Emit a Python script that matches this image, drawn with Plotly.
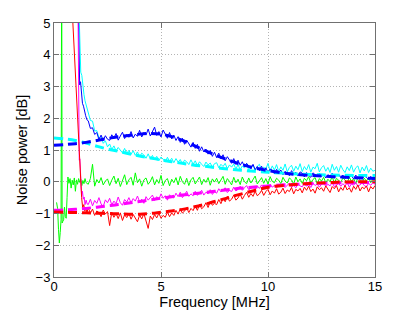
import numpy as np
import plotly.graph_objects as go

# ---------------- data ----------------
X_TICKS = [0, 5, 10, 15]
Y_TICKS = [-3, -2, -1, 0, 1, 2, 3, 4, 5]

# uniform frequency sampling of the measured traces (MHz)
BODY_FREQ = np.round(np.linspace(1.6, 15.0, 135), 2)

BLUE_HEAD_F = [1.13, 1.17, 1.2, 1.24, 1.28, 1.33, 1.38, 1.43, 1.48, 1.54]
BLUE_HEAD_V = [5.6, 4.15, 3.05, 3.15, 2.7, 2.47, 2.38, 2.2, 2.08, 1.95]
BLUE_BODY = [
    1.92, 1.68, 1.70, 1.49, 1.55, 1.33, 1.47, 1.30, 1.45, 1.34,
    1.30, 1.48, 1.37, 1.52, 1.31, 1.44, 1.56, 1.36, 1.49, 1.40,
    1.58, 1.38, 1.50, 1.43, 1.62, 1.41, 1.55, 1.47, 1.66, 1.44,
    1.59, 1.72, 1.46, 1.58, 1.41, 1.63, 1.50, 1.37, 1.55, 1.35,
    1.47, 1.30, 1.42, 1.24, 1.37, 1.18, 1.31, 1.21, 1.09, 1.24,
    1.05, 1.18, 0.96, 1.10, 0.94, 1.02, 0.87, 0.99, 0.80, 0.93,
    0.76, 0.90, 0.72, 0.85, 0.66, 0.79, 0.70, 0.58, 0.73, 0.55,
    0.68, 0.52, 0.63, 0.47, 0.58, 0.50, 0.41, 0.55, 0.38, 0.48,
    0.35, 0.49, 0.32, 0.44, 0.29, 0.40, 0.36, 0.25, 0.39, 0.27,
    0.37, 0.22, 0.33, 0.26, 0.19, 0.35, 0.24, 0.30, 0.18, 0.31,
    0.27, 0.15, 0.29, 0.20, 0.14, 0.28, 0.22, 0.17, 0.26, 0.16,
    0.24, 0.12, 0.22, 0.17, 0.27, 0.11, 0.20, 0.23, 0.13, 0.21,
    0.10, 0.22, 0.15, 0.19, 0.09, 0.21, 0.13, 0.17, 0.08, 0.18,
    0.14, 0.07, 0.17, 0.10, 0.12,
]

CYAN_HEAD_F = [1.16, 1.2, 1.25, 1.3, 1.35, 1.4, 1.45, 1.5, 1.55]
CYAN_HEAD_V = [5.6, 4.3, 3.45, 3.35, 2.95, 2.75, 2.55, 2.42, 2.28]
CYAN_BODY = [
    2.22, 1.93, 1.91, 1.60, 1.61, 1.38, 1.42, 1.21, 1.29, 1.10,
    1.19, 1.02, 1.13, 0.97, 1.08, 1.01, 0.91, 1.05, 0.88, 0.99,
    0.86, 0.98, 0.83, 0.94, 0.78, 0.90, 0.84, 0.74, 0.88, 0.72,
    0.83, 0.69, 0.80, 0.66, 0.78, 0.71, 0.62, 0.77, 0.64, 0.74,
    0.60, 0.73, 0.62, 0.70, 0.56, 0.68, 0.63, 0.54, 0.69, 0.55,
    0.66, 0.51, 0.63, 0.55, 0.48, 0.62, 0.53, 0.59, 0.46, 0.57,
    0.60, 0.44, 0.55, 0.48, 0.58, 0.41, 0.53, 0.46, 0.56, 0.40,
    0.54, 0.38, 0.50, 0.43, 0.57, 0.37, 0.47, 0.52, 0.36, 0.49,
    0.55, 0.34, 0.46, 0.40, 0.58, 0.33, 0.50, 0.37, 0.54, 0.32,
    0.47, 0.36, 0.56, 0.31, 0.45, 0.52, 0.33, 0.49, 0.38, 0.57,
    0.32, 0.48, 0.37, 0.54, 0.30, 0.46, 0.41, 0.58, 0.31, 0.44,
    0.51, 0.33, 0.45, 0.29, 0.55, 0.36, 0.48, 0.30, 0.52, 0.38,
    0.29, 0.47, 0.35, 0.53, 0.30, 0.44, 0.50, 0.28, 0.46, 0.34,
    0.51, 0.29, 0.43, 0.33, 0.36,
]

GREEN_HEAD_F = [0.12, 0.17, 0.21, 0.25, 0.29, 0.33, 0.36, 0.38, 0.41, 0.45,
                0.49, 0.53, 0.57, 0.61, 0.65, 0.7, 0.75, 0.8, 0.85, 0.9,
                0.95, 1.0, 1.05, 1.1, 1.15, 1.2, 1.25, 1.3, 1.35, 1.4,
                1.45, 1.5]
GREEN_HEAD_V = [-0.65, -0.85, -1.5, -1.93, -1.6, -1.2, 7.0, -1.3, -1.25, -1.2,
                -0.8, -1.1, -1.15, -0.5, 0.15, -0.05, 0.1, -0.2, 0.05, -0.1,
                0.12, -0.3, 0.06, -0.08, 0.1, -0.02, 0.08, -0.12, 0.04, -0.06,
                0.1, -0.03]
GREEN_BODY = [
    -0.08, 0.10, 0.55, -0.14, 0.07, -0.04, 0.13, -0.10, 0.02, 0.09,
    -0.12, 0.05, 0.18, -0.06, 0.11, -0.15, 0.03, 0.22, -0.09, 0.06,
    0.14, -0.11, 0.28, -0.03, 0.09, -0.14, 0.06, 0.12, -0.08, 0.01,
    0.16, -0.10, 0.07, -0.05, 0.20, -0.12, 0.04, 0.10, -0.13, 0.08,
    -0.03, 0.13, -0.10, 0.17, 0.00, -0.08, 0.11, -0.12, 0.06, 0.14,
    -0.07, 0.04, 0.15, -0.09, 0.08, -0.02, 0.13, -0.11, 0.09, -0.01,
    0.11, -0.06, 0.05, 0.17, -0.08, 0.10, 0.01, -0.10, 0.14, -0.03,
    0.08, -0.09, 0.15, 0.00, -0.06, 0.12, -0.04, 0.09, 0.18, -0.07,
    0.04, 0.13, -0.05, 0.10, -0.08, 0.16, 0.01, -0.03, 0.11, 0.05,
    -0.06, 0.14, 0.02, -0.04, 0.12, 0.06, -0.07, 0.15, 0.00, 0.09,
    -0.05, 0.11, 0.03, 0.16, -0.04, 0.07, 0.13, -0.06, 0.10, 0.02,
    0.14, -0.03, 0.08, 0.00, 0.17, -0.05, 0.11, 0.05, -0.02, 0.12,
    0.06, -0.04, 0.15, 0.01, 0.10, -0.06, 0.13, 0.07, -0.01, 0.11,
    0.02, 0.14, -0.03, 0.09, 0.06,
]

MAGENTA_HEAD_F = [1.12, 1.15, 1.18, 1.21, 1.25, 1.29, 1.33, 1.37, 1.41, 1.45, 1.5, 1.55]
MAGENTA_HEAD_V = [5.6, 1.4, 0.68, 0.72, 0.25, -0.45, -0.3, -0.55, -0.48, -0.72, -0.58, -0.7]
MAGENTA_BODY = [
    -0.72, -0.55, -0.76, -0.59, -0.68, -0.50, -0.70, -0.78, -0.57, -0.66,
    -0.52, -0.73, -0.61, -0.69, -0.48, -0.66, -0.74, -0.56, -0.64, -0.50,
    -0.66, -0.53, -0.61, -0.45, -0.63, -0.55, -0.68, -0.47, -0.58, -0.51,
    -0.42, -0.59, -0.47, -0.56, -0.38, -0.52, -0.44, -0.58, -0.41, -0.49,
    -0.51, -0.36, -0.47, -0.33, -0.50, -0.41, -0.30, -0.46, -0.38, -0.44,
    -0.30, -0.43, -0.35, -0.27, -0.42, -0.33, -0.38, -0.25, -0.40, -0.31,
    -0.36, -0.22, -0.32, -0.26, -0.19, -0.34, -0.27, -0.31, -0.17, -0.29,
    -0.24, -0.14, -0.27, -0.19, -0.12, -0.25, -0.20, -0.16, -0.26, -0.13,
    -0.21, -0.10, -0.19, -0.13, -0.22, -0.08, -0.17, -0.12, -0.20, -0.09,
    -0.15, -0.06, -0.18, -0.10, -0.04, -0.17, -0.11, -0.19, -0.07, -0.13,
    -0.16, -0.05, -0.14, -0.09, -0.18, -0.04, -0.12, -0.07, -0.17, -0.08,
    -0.03, -0.15, -0.08, -0.13, -0.02, -0.16, -0.10, -0.05, -0.14, -0.06,
    -0.13, -0.03, -0.17, -0.07, -0.11, -0.02, -0.15, -0.09, -0.04, -0.12,
    -0.16, -0.05, -0.11, -0.03, -0.08,
]

RED_HEAD_F = [0.86, 1.13, 1.19, 1.24, 1.29, 1.34, 1.39, 1.44, 1.49, 1.54]
RED_HEAD_V = [5.3, 1.5, 0.5, -0.15, -0.5, -0.82, -0.72, -0.92, -0.84, -0.97]
RED_BODY = [
    -0.82, -0.99, -0.86, -1.06, -0.92, -0.97, -1.10, -0.89, -1.02, -0.94,
    -1.38, -0.96, -1.12, -1.00, -1.16, -0.98, -1.22, -1.04, -1.13, -0.99,
    -1.18, -1.03, -1.15, -1.26, -1.05, -1.17, -1.00, -1.21, -1.47, -1.08,
    -1.19, -1.03, -1.14, -0.99, -1.15, -1.06, -1.12, -0.96, -1.10, -0.98,
    -1.06, -0.90, -1.02, -0.85, -0.99, -0.92, -0.82, -0.97, -0.84, -0.91,
    -0.76, -0.90, -0.71, -0.85, -0.79, -0.66, -0.81, -0.62, -0.74, -0.68,
    -0.72, -0.56, -0.69, -0.52, -0.63, -0.46, -0.61, -0.55, -0.42, -0.58,
    -0.51, -0.39, -0.55, -0.43, -0.33, -0.49, -0.37, -0.46, -0.30, -0.44,
    -0.38, -0.27, -0.43, -0.31, -0.24, -0.41, -0.29, -0.36, -0.22, -0.39,
    -0.33, -0.20, -0.37, -0.26, -0.31, -0.18, -0.38, -0.24, -0.29, -0.21,
    -0.35, -0.17, -0.27, -0.14, -0.31, -0.23, -0.36, -0.16, -0.25, -0.19,
    -0.30, -0.13, -0.24, -0.34, -0.15, -0.22, -0.12, -0.32, -0.18, -0.27,
    -0.11, -0.26, -0.19, -0.33, -0.14, -0.24, -0.10, -0.29, -0.17, -0.22,
    -0.13, -0.32, -0.15, -0.23, -0.12,
]

# smooth model curves (dashed)
MODEL_F = [0, 0.5, 1, 1.5, 2, 2.5, 3, 3.5, 4, 4.5, 5, 5.5, 6, 6.5, 7, 7.5,
           8, 8.5, 9, 9.5, 10, 11, 12, 13, 14, 15]
BLUE_MODEL = [1.15, 1.17, 1.2, 1.24, 1.3, 1.36, 1.42, 1.46, 1.5, 1.52, 1.5, 1.42,
              1.3, 1.15, 1.0, 0.85, 0.72, 0.6, 0.5, 0.42, 0.35, 0.25, 0.2, 0.16, 0.13, 0.1]
CYAN_MODEL = [1.38, 1.35, 1.3, 1.22, 1.12, 1.03, 0.96, 0.88, 0.81, 0.75, 0.69, 0.63,
              0.58, 0.53, 0.49, 0.45, 0.41, 0.38, 0.35, 0.32, 0.3, 0.26, 0.23, 0.21, 0.2, 0.2]
MAGENTA_MODEL = [-0.9, -0.89, -0.87, -0.84, -0.8, -0.76, -0.72, -0.67, -0.62, -0.57,
                 -0.52, -0.47, -0.42, -0.38, -0.34, -0.3, -0.26, -0.22, -0.19, -0.16,
                 -0.13, -0.09, -0.06, -0.04, -0.03, -0.02]
RED_MODEL = [-0.95, -0.96, -0.97, -0.98, -0.99, -1.0, -1.01, -1.02, -1.02, -1.0,
             -0.96, -0.92, -0.87, -0.8, -0.72, -0.62, -0.53, -0.43, -0.34, -0.25,
             -0.17, -0.1, -0.05, -0.02, 0.0, 0.0]

# ---------------- figure ----------------
fig = go.Figure()

def solid(head_f, head_v, body, color):
    fig.add_trace(go.Scatter(
        x=list(head_f) + list(BODY_FREQ), y=list(head_v) + list(body),
        mode="lines", line=dict(color=color, width=1), hoverinfo="skip",
        showlegend=False))

solid(GREEN_HEAD_F, GREEN_HEAD_V, GREEN_BODY, "#00ff00")
solid(CYAN_HEAD_F, CYAN_HEAD_V, CYAN_BODY, "#00ffff")
solid(BLUE_HEAD_F, BLUE_HEAD_V, BLUE_BODY, "#0000ff")
solid(MAGENTA_HEAD_F, MAGENTA_HEAD_V, MAGENTA_BODY, "#ff00ff")
solid(RED_HEAD_F, RED_HEAD_V, RED_BODY, "#ff0000")

for vals, color in [(CYAN_MODEL, "#00ffff"), (BLUE_MODEL, "#0000ff"),
                    (MAGENTA_MODEL, "#ff00ff"), (RED_MODEL, "#ff0000")]:
    fig.add_trace(go.Scatter(
        x=MODEL_F, y=vals, mode="lines",
        line=dict(color=color, width=3, dash="9px,5px", shape="spline"),
        hoverinfo="skip", showlegend=False))

axis_common = dict(
    showline=True, linecolor="#707070", linewidth=1, mirror="ticks",
    ticks="inside", ticklen=5, tickcolor="#707070",
    showgrid=True, gridcolor="#b4b4b4", gridwidth=1, griddash="1px,2px",
    zeroline=False, automargin=False,
    tickfont=dict(family="Liberation Sans, Arial, sans-serif", size=13, color="#000"),
)

# the page body adds an 8px offset, so the figure is 8px smaller than the window
fig.update_layout(
    width=407, height=303,
    margin=dict(l=46, r=40, t=15, b=34),
    paper_bgcolor="white", plot_bgcolor="white",
    font=dict(family="Liberation Sans, Arial, sans-serif", size=13, color="#000"),
    xaxis=dict(range=[0, 15], tickvals=X_TICKS, ticklabelstandoff=-3,
               title=dict(text="Frequency [MHz]", standoff=0,
                          font=dict(size=14.5)), **axis_common),
    yaxis=dict(range=[-3, 5], tickvals=Y_TICKS,
               title=dict(text="Noise power [dB]", standoff=4,
                          font=dict(size=14.5)), **axis_common),
)

fig.write_html("out.html")
